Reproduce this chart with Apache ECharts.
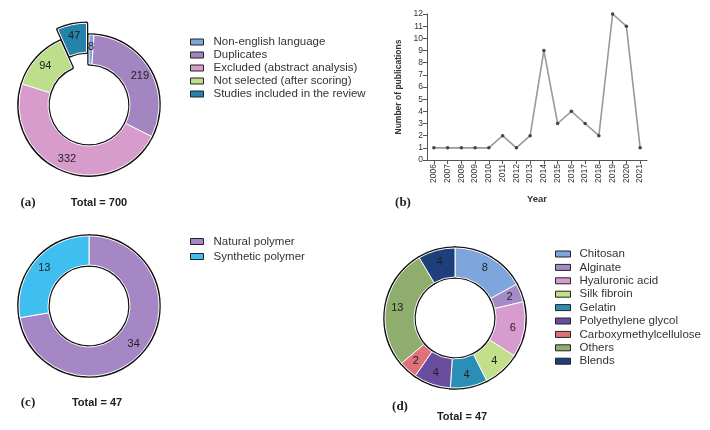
<!DOCTYPE html>
<html>
<head>
<meta charset="utf-8">
<script src="https://cdn.jsdelivr.net/npm/echarts@6/dist/echarts.min.js"></script>
<style>
html,body{margin:0;padding:0;background:#fff;}
#chart{width:710px;height:430px;}
</style>
</head>
<body>
<div id="chart"></div>
<script>
// Panel (a)
const screeningNames = ['Non-english language', 'Duplicates', 'Excluded (abstract analysis)', 'Not selected (after scoring)', 'Studies included in the review'];
const screeningValues = [8, 219, 332, 94, 47];
const screeningColors = ['#7fa3dc', '#a385c2', '#d79ccb', '#bddf8b', '#2383a8'];

// Panel (b)
const years = ['2006','2007','2008','2009','2010','2011','2012','2013','2014','2015','2016','2017','2018','2019','2020','2021'];
const publications = [1, 1, 1, 1, 1, 2, 1, 2, 9, 3, 4, 3, 2, 12, 11, 1];

// Panel (c)
const polymerNames = ['Natural polymer', 'Synthetic polymer'];
const polymerValues = [34, 13];
const polymerColors = ['#a587c6', '#3ebff0'];

// Panel (d)
const materialNames = ['Chitosan', 'Alginate', 'Hyaluronic acid', 'Silk fibroin', 'Gelatin', 'Polyethylene glycol', 'Carboxymethylcellulose', 'Others', 'Blends'];
const materialValues = [8, 2, 6, 4, 4, 4, 2, 13, 4];
const materialColors = ['#7ea6dc', '#a48ac6', '#d89bd0', '#c2e08c', '#2b8fb5', '#6a4d9e', '#e0707a', '#8fad6d', '#1f3f7a'];

const chart = echarts.init(document.getElementById('chart'), null, {renderer: 'canvas'});

function pieData(names, values, colors, selectedIdx) {
  return names.map((n, i) => ({
    name: n, value: values[i],
    itemStyle: {color: colors[i]},
    selected: i === selectedIdx
  }));
}

function donut(names, values, colors, center, selectedIdx) {
  const common = {
    type: 'pie', center: center, radius: [41, 70], startAngle: 90, clockwise: true,
    avoidLabelOverlap: false, silent: true, animation: false,
    selectedMode: selectedIdx >= 0 ? 'single' : false, selectedOffset: 12,
    emphasis: {disabled: true}
  };
  return [
    Object.assign({}, common, {
      z: 1,
      data: pieData(names, values, colors, selectedIdx),
      itemStyle: {borderColor: '#111', borderWidth: 3.5},
      label: {show: false}, labelLine: {show: false}
    }),
    Object.assign({}, common, {
      z: 2,
      data: pieData(names, values, colors, selectedIdx),
      itemStyle: {borderColor: '#fff', borderWidth: 1},
      label: {show: true, position: 'inside', formatter: '{c}', color: '#222', fontSize: 11, fontFamily: 'Liberation Sans, Arial, sans-serif'},
      labelLine: {show: false}
    })
  ];
}

const legendBase = {
  orient: 'vertical', icon: 'rect', itemWidth: 13, itemHeight: 6, itemGap: 0,
  selectedMode: false,
  itemStyle: {borderColor: '#222', borderWidth: 1},
  textStyle: {fontSize: 11.5, color: '#333', lineHeight: 13, fontFamily: 'Liberation Sans, Arial, sans-serif', padding: [0, 0, 0, 5]}
};

const sans = 'Liberation Sans, Arial, sans-serif';
const serif = 'Liberation Serif, DejaVu Serif, serif';

function txt(x, y, text, font, size, weight) {
  return {type: 'text', x: x, y: y, style: {text: text, font: weight + ' ' + size + 'px ' + font, fill: '#222', textAlign: 'center', textVerticalAlign: 'middle'}};
}

const option = {
  backgroundColor: '#fff',
  animation: false,
  legend: [
    Object.assign({}, legendBase, {left: 185, top: 30.5, data: screeningNames}),
    Object.assign({}, legendBase, {left: 185, top: 230, itemGap: 2, data: polymerNames}),
    Object.assign({}, legendBase, {left: 550, top: 242.5, itemWidth: 15, itemGap: 0.4, textStyle: Object.assign({}, legendBase.textStyle, {padding: [0, 0, 0, 4]}), data: materialNames})
  ],
  grid: {left: 427, right: 63, top: 14, bottom: 270, containLabel: false},
  xAxis: {
    type: 'category', data: years, boundaryGap: true,
    name: 'Year', nameLocation: 'middle', nameGap: 34,
    nameTextStyle: {fontSize: 9.5, fontWeight: 'bold', color: '#333', fontFamily: sans},
    axisLine: {lineStyle: {color: '#555', width: 1}},
    axisTick: {show: true, alignWithLabel: true, length: 4, lineStyle: {color: '#555'}},
    axisLabel: {rotate: 90, fontSize: 8.5, color: '#333', margin: 4, interval: 0, fontFamily: sans}
  },
  yAxis: {
    type: 'value', min: 0, max: 12, interval: 1,
    name: 'Number of publications', nameLocation: 'middle', nameGap: 24, nameRotate: 90,
    nameTextStyle: {fontSize: 8.5, fontWeight: 'bold', color: '#333', fontFamily: sans},
    axisLine: {show: true, lineStyle: {color: '#555', width: 1}},
    axisTick: {show: true, length: 4, lineStyle: {color: '#555'}},
    axisLabel: {fontSize: 8.5, color: '#333', margin: 4, fontFamily: sans},
    splitLine: {show: false}
  },
  series: [].concat(
    donut(screeningNames, screeningValues, screeningColors, [89, 105], 4),
    donut(polymerNames, polymerValues, polymerColors, [89, 306], -1),
    donut(materialNames, materialValues, materialColors, [455, 318], -1),
    [{
      type: 'line', data: publications, silent: true,
      lineStyle: {color: '#9a9a9a', width: 1.6},
      symbol: 'circle', symbolSize: 3.5,
      itemStyle: {color: '#444'}
    }]
  ),
  graphic: [
    txt(28, 203, '(a)', serif, 13, 'bold'),
    txt(99, 203, 'Total = 700', sans, 11, 'bold'),
    txt(403, 203, '(b)', serif, 13, 'bold'),
    txt(28, 403, '(c)', serif, 13, 'bold'),
    txt(97, 403, 'Total = 47', sans, 11, 'bold'),
    txt(400, 407, '(d)', serif, 13, 'bold'),
    txt(462, 417, 'Total = 47', sans, 11, 'bold')
  ]
};
chart.setOption(option);
</script>
</body>
</html>
